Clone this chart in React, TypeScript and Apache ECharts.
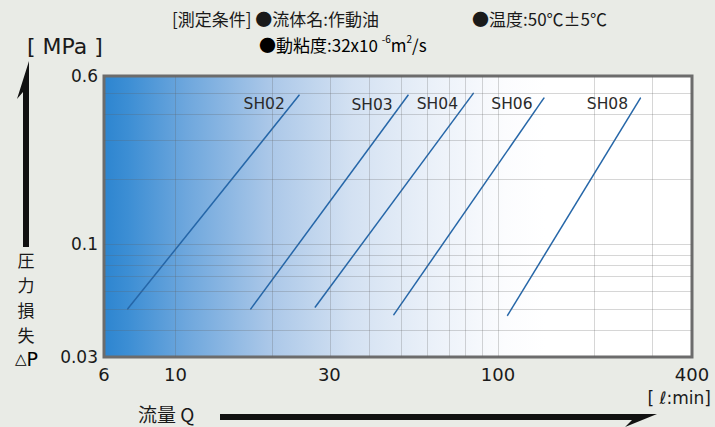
import React, { useEffect, useRef } from "react";
import * as echarts from "echarts";

// Flow rate Q [l/min] and pressure loss ΔP [MPa] — start and end points of each curve
const seriesNames = ["SH02", "SH03", "SH04", "SH06", "SH08"];
const flowSH02 = [7.1, 24.2];
const lossSH02 = [0.05, 0.49];
const flowSH03 = [17.1, 52.7];
const lossSH03 = [0.05, 0.49];
const flowSH04 = [27.1, 84];
const lossSH04 = [0.051, 0.5];
const flowSH06 = [47.5, 139];
const lossSH06 = [0.047, 0.475];
const flowSH08 = [107, 277];
const lossSH08 = [0.0466, 0.475];

const xTickLabels = [6, 10, 30, 100, 400];
const yTickLabels = [0.03, 0.1, 0.6];
const xGridValues = [10, 20, 30, 40, 50, 60, 70, 80, 90, 100, 200, 300];
const yGridValues = [0.04, 0.05, 0.06, 0.07, 0.08, 0.09, 0.1, 0.2, 0.3, 0.4, 0.5];
const xRange = [6, 400];
const yRange = [0.03, 0.6];
const yTitleChars = ["圧", "力", "損", "失"];

const labelOffsets = [
  [-14, 9],
  [-15, 10],
  [-15, 11],
  [-11, 6],
  [-12, 6],
];

const LAT = "'DejaVu Sans', 'Noto Sans CJK JP', sans-serif";
const JP = "'Noto Sans CJK JP', 'DejaVu Sans', sans-serif";

export default function App() {
  const ref = useRef<HTMLDivElement>(null);
  useEffect(() => {
    if (!ref.current) return;
    const chart = echarts.init(ref.current, undefined, { renderer: "svg" });
    const L = Math.log10;
    const flows = [flowSH02, flowSH03, flowSH04, flowSH06, flowSH08];
    const losses = [lossSH02, lossSH03, lossSH04, lossSH06, lossSH08];

    const curveSeries = seriesNames.map((name, i) => ({
      type: "line",
      name,
      z: 3,
      symbol: "circle",
      symbolSize: 1,
      showSymbol: true,
      silent: true,
      itemStyle: { color: "#2566a8" },
      lineStyle: { color: "#2566a8", width: 1.5 },
      label: { show: false },
      data: flows[i].map((q, j) => {
        const item: any = { value: [L(q), L(losses[i][j])] };
        if (j === flows[i].length - 1) {
          item.label = {
            show: true,
            position: "left",
            distance: 0,
            offset: labelOffsets[i],
            formatter: name,
            fontFamily: LAT,
            fontSize: 15.5,
            color: "#2a2a2a",
          };
        }
        return item;
      }),
    }));

    const gridLineStyle = { color: "rgba(95,95,95,0.26)", width: 1, type: "solid" };

    const option: any = {
      animation: false,
      backgroundColor: "#e9ebe6",
      grid: {
        left: 104,
        top: 76,
        right: 23,
        bottom: 70,
        show: true,
        borderColor: "#6c6c6c",
        borderWidth: 3,
        backgroundColor: new echarts.graphic.LinearGradient(0, 0, 1, 0, [
          { offset: 0, color: "#2d85d0" },
          { offset: 0.04, color: "#3c8ed4" },
          { offset: 0.14, color: "#6ea7dd" },
          { offset: 0.28, color: "#aac7e8" },
          { offset: 0.42, color: "#d3e1f2" },
          { offset: 0.56, color: "#ebf1f9" },
          { offset: 0.68, color: "#fbfcfe" },
          { offset: 0.75, color: "#ffffff" },
          { offset: 1, color: "#ffffff" },
        ]),
      },
      xAxis: {
        type: "value",
        min: L(xRange[0]),
        max: L(xRange[1]),
        axisLine: { show: false },
        axisTick: { show: false },
        splitLine: { show: false },
        axisLabel: {
          customValues: xTickLabels.map(L),
          formatter: (v: number) => String(Number(Math.pow(10, v).toPrecision(3))),
          fontFamily: LAT,
          fontSize: 18,
          color: "#1a1a1a",
          margin: 8,
        },
      },
      yAxis: {
        type: "value",
        min: L(yRange[0]),
        max: L(yRange[1]),
        axisLine: { show: false },
        axisTick: { show: false },
        splitLine: { show: false },
        axisLabel: {
          customValues: yTickLabels.map(L),
          formatter: (v: number) => String(Number(Math.pow(10, v).toPrecision(2))),
          fontFamily: LAT,
          fontSize: 17,
          color: "#1a1a1a",
          margin: 6,
        },
      },
      series: [
        {
          type: "line",
          name: "grid",
          z: 1,
          data: [],
          silent: true,
          markLine: {
            silent: true,
            symbol: "none",
            animation: false,
            label: { show: false },
            lineStyle: gridLineStyle,
            data: [
              ...xGridValues.map((v) => ({ xAxis: L(v) })),
              ...yGridValues.map((v) => ({ yAxis: L(v) })),
            ],
          },
        },
        ...curveSeries,
      ],
      graphic: [
        {
          type: "text",
          left: 172,
          top: 10,
          style: { text: "[測定条件] ●流体名:作動油", font: `17px ${JP}`, fill: "#1a1a1a" },
        },
        {
          type: "text",
          left: 472,
          top: 10,
          style: { text: "●温度:50℃±5℃", font: `17px ${JP}`, fill: "#1a1a1a" },
        },
        {
          type: "text",
          left: 259,
          top: 33,
          style: {
            text: "{a|●動粘度:32x10 }{s|-6}{a|m}{s|2}{a|/s}",
            rich: {
              a: { fontFamily: JP, fontSize: 17, color: "#1a1a1a", lineHeight: 22 },
              s: { fontFamily: JP, fontSize: 10, color: "#1a1a1a", lineHeight: 22, verticalAlign: "top" },
            },
          },
        },
        {
          type: "text",
          left: 27,
          top: 35,
          style: { text: "[ MPa ]", font: `22px ${LAT}`, fill: "#1a1a1a" },
        },
        {
          type: "polygon",
          shape: {
            points: [
              [29, 61],
              [29, 247],
              [23, 247],
              [23, 92],
              [17, 99],
            ],
          },
          style: { fill: "#111" },
        },
        ...yTitleChars.map((c, i) => ({
          type: "text",
          x: 26,
          y: 259 + i * 25,
          style: {
            text: c,
            font: `17px ${JP}`,
            lineHeight: 18,
            fill: "#1a1a1a",
            textAlign: "center",
            textVerticalAlign: "middle",
          },
        })),
        {
          type: "text",
          x: 15,
          y: 359,
          style: {
            text: "{t|△}{p|P}",
            textVerticalAlign: "middle",
            rich: {
              t: { fontFamily: LAT, fontSize: 15, color: "#1a1a1a", lineHeight: 19 },
              p: { fontFamily: LAT, fontSize: 19, color: "#1a1a1a", lineHeight: 19 },
            },
          },
        },
        {
          type: "text",
          right: 4,
          top: 389,
          style: { text: "[ ℓ:min]", font: `17px ${LAT}`, fill: "#1a1a1a" },
        },
        {
          type: "text",
          x: 138,
          y: 413,
          style: {
            text: "流量 Q",
            font: `19px ${JP}`,
            lineHeight: 19,
            fill: "#1a1a1a",
            textVerticalAlign: "middle",
          },
        },
        {
          type: "polygon",
          shape: {
            points: [
              [220, 414],
              [657, 414],
              [625, 427],
              [632, 420],
              [220, 420],
            ],
          },
          style: { fill: "#111" },
        },
      ],
    };
    chart.setOption(option);
    return () => chart.dispose();
  }, []);
  return (
    <div
      ref={ref}
      style={{ position: "fixed", left: 0, top: 0, width: 715, height: 427 }}
    />
  );
}
